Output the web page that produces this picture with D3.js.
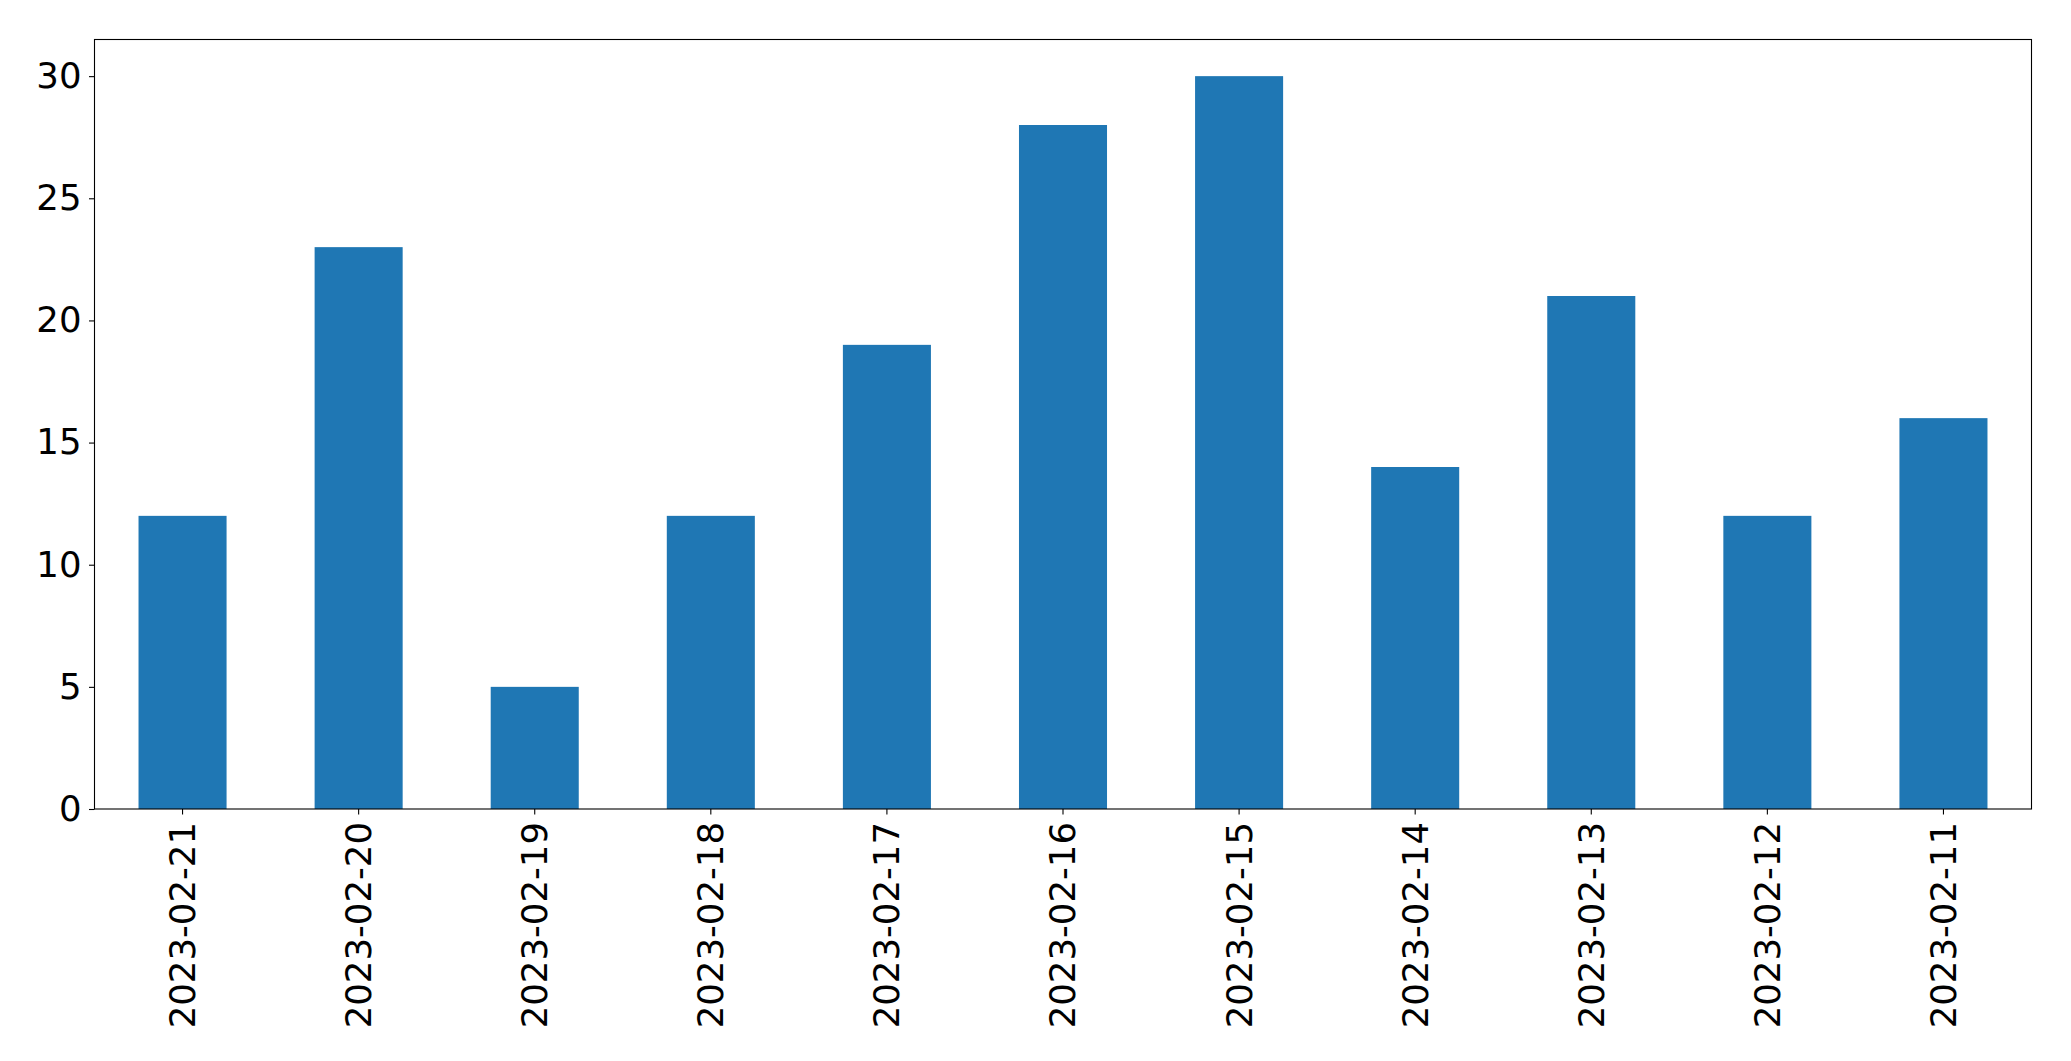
<!DOCTYPE html>
<html><head><meta charset="utf-8">
<script src="https://cdn.jsdelivr.net/npm/d3@7"></script>
<style>body{margin:0;background:#fff}svg{display:block}text{font-family:"DejaVu Sans",sans-serif}</style>
</head><body>
<script>
const categories = ["2023-02-21","2023-02-20","2023-02-19","2023-02-18","2023-02-17","2023-02-16","2023-02-15","2023-02-14","2023-02-13","2023-02-12","2023-02-11"];
const values = [12,23,5,12,19,28,30,14,21,12,16];
const yTicks = [0,5,10,15,20,25,30];

const W = 2071, H = 1061;
const m = {left:94.5, right:2031.5, top:39.5, bottom:809};
const svg = d3.select("body").append("svg").attr("width",W).attr("height",H);

const x = d3.scaleBand().domain(categories).range([m.left,m.right]).paddingInner(0.5).paddingOuter(0.25);
const y = d3.scaleLinear().domain([0,31.5]).range([m.bottom,m.top]);

svg.append("g").selectAll("rect").data(values).join("rect")
  .attr("x",(d,i)=>x(categories[i])).attr("width",x.bandwidth())
  .attr("y",d=>y(d)).attr("height",d=>y(0)-y(d)).attr("fill","#1f77b4");

const fs = "35.5px";
const ya = svg.append("g").attr("transform",`translate(${m.left},0)`)
  .call(d3.axisLeft(y).tickValues(yTicks).tickSize(5.5).tickPadding(7.5).tickFormat(d3.format("d")));
ya.select(".domain").remove();
ya.selectAll("text").attr("font-size",fs).attr("fill","#000").attr("font-family","DejaVu Sans");
ya.selectAll("line").attr("stroke","#000").attr("stroke-width",1.1);

const xa = svg.append("g").attr("transform",`translate(0,${m.bottom})`)
  .call(d3.axisBottom(x).tickSize(5.5).tickPadding(0));
xa.select(".domain").remove();
xa.selectAll("line").attr("stroke","#000").attr("stroke-width",1.1);
xa.selectAll("text").attr("font-size",fs).attr("fill","#000").attr("font-family","DejaVu Sans")
  .attr("text-anchor","end").attr("dy","0.35em")
  .attr("transform","translate(0,13) rotate(-90)").attr("x",0).attr("y",0);

svg.append("rect").attr("x",m.left).attr("y",m.top).attr("width",m.right-m.left).attr("height",m.bottom-m.top)
  .attr("fill","none").attr("stroke","#000").attr("stroke-width",1.1);
</script>
</body></html>
